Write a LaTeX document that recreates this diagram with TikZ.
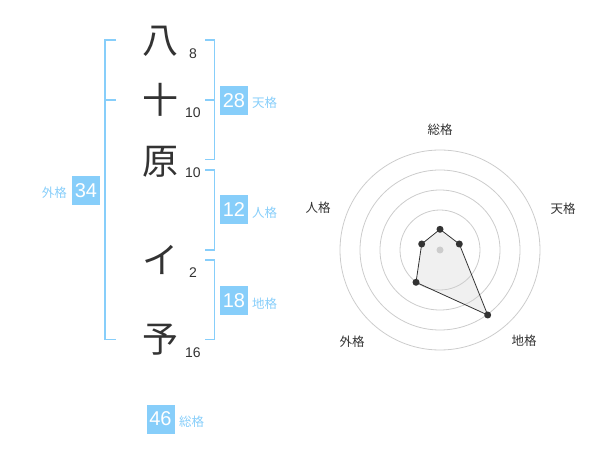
\documentclass[tikz,border=0pt]{standalone}
\usepackage{fontspec}
\setmainfont{Liberation Sans}
\newfontfamily\cjk{Noto Sans CJK JP}
\definecolor{sky}{HTML}{87CEFA}
\definecolor{ink}{HTML}{333333}
\definecolor{ring}{HTML}{CCCCCC}
\begin{document}
\begin{tikzpicture}[x=1pt,y=-1pt,
  kanji/.style={font=\cjk\fontsize{36}{36}\selectfont, text=ink, inner sep=0pt},
  strokes/.style={font=\fontsize{14}{14}\selectfont, text=ink, inner sep=0pt},
  valbox/.style={fill=sky, text=white, font=\fontsize{20}{20}\selectfont, minimum width=28pt, minimum height=29pt, inner sep=0pt},
  kaku/.style={font=\cjk\fontsize{12.5}{12.5}\selectfont, text=sky, inner sep=0pt},
  bracket/.style={draw=sky, line width=1.5pt},
  axislabel/.style={font=\cjk\fontsize{12.5}{12.5}\selectfont, text=ink, inner sep=0pt},
  ringline/.style={draw=ring, line width=0.8pt},
  datadot/.style={circle, fill=ink, inner sep=0pt, minimum size=7pt},
]
\useasboundingbox (0,0) rectangle (600,470);
% characters
\node[kanji] (k1) at (160,41.7) {八};
\node[kanji] (k2) at (160,100) {十};
\node[kanji] (k3) at (160,161.7) {原};
\node[kanji] (k4) at (160,260) {イ};
\node[kanji] (k5) at (160,340) {予};
\node[strokes] (s1) at (193,53.3) {8};
\node[strokes] (s2) at (193,112.7) {10};
\node[strokes] (s3) at (193,172.7) {10};
\node[strokes] (s4) at (193,272.7) {2};
\node[strokes] (s5) at (193,352.7) {16};
% brackets
\draw[bracket] (116,40) -- (105,40) -- (105,339.3) -- (116,339.3);
\draw[bracket] (105,100) -- (116,100);
\draw[bracket] (205,40) -- (214.3,40) -- (214.3,159.3) -- (205,159.3);
\draw[bracket] (214.3,100) -- (205,100);
\draw[bracket] (205,170) -- (214.3,170) -- (214.3,250) -- (205,250);
\draw[bracket] (205,260) -- (214.3,260) -- (214.3,339.3) -- (205,339.3);
% value boxes
\node[valbox] (ten) at (234,100.5) {28};
\node[kaku, anchor=west] (tenl) at (252,103) {天格};
\node[valbox] (jin) at (234,210) {12};
\node[kaku, anchor=west] (jinl) at (252,213) {人格};
\node[valbox] (chi) at (234,301) {18};
\node[kaku, anchor=west] (chil) at (252,303.5) {地格};
\node[valbox] (gai) at (86,190.5) {34};
\node[kaku, anchor=east] (gail) at (67,193) {外格};
\node[valbox] (sou) at (160.5,419) {46};
\node[kaku, anchor=west] (soul) at (179,422) {総格};
% radar chart
\coordinate (c) at (440,250);
\fill[black, fill opacity=0.06] (440,229.3) -- (459.3,244) -- (487.7,315) -- (416,282.3) -- (421.7,244) -- cycle;
\foreach \r in {40,60,80,100} \draw[ringline] (c) circle[radius=\r];
\node[circle, fill=ring, inner sep=0pt, minimum size=7pt] (cd) at (c) {};
\node[datadot] (p1) at (440,229.3) {};
\node[datadot] (p2) at (459.3,244) {};
\node[datadot] (p3) at (487.7,315) {};
\node[datadot] (p4) at (416,282.3) {};
\node[datadot] (p5) at (421.7,244) {};
\draw[ink, line width=0.8pt] (p1.center) -- (p2.center) -- (p3.center) -- (p4.center) -- (p5.center) -- cycle;
\node[axislabel] (a1) at (440,130) {総格};
\node[axislabel] (a2) at (563,208.3) {天格};
\node[axislabel] (a3) at (318,208) {人格};
\node[axislabel] (a4) at (352,342) {外格};
\node[axislabel] (a5) at (524,341) {地格};
\end{tikzpicture}
\end{document}
